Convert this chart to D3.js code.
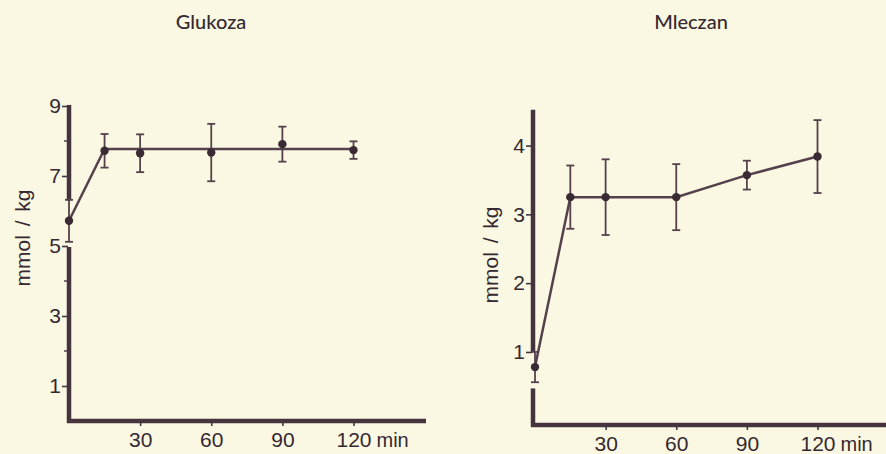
<!DOCTYPE html>
<html>
<head>
<meta charset="utf-8">
<script src="https://cdn.jsdelivr.net/npm/d3@7"></script>
<style>
  html, body { margin: 0; padding: 0; background: #faf8e3; }
  svg { display: block; }
  text { fill: #352830; }
</style>
</head>
<body>
<svg id="chart" width="886" height="454"></svg>
<script>
// Sampling times (min)
const times = [0, 15, 30, 60, 90, 120];
const xTickValues = [30, 60, 90, 120];

// Glukoza (mmol/kg): means, SD, and the drawn trend line
const glukozaMean = [5.72, 7.72, 7.65, 7.67, 7.91, 7.74];
const glukozaSD   = [0.60, 0.48, 0.54, 0.82, 0.50, 0.25];
const glukozaTrend = [5.72, 7.77, 7.77, 7.77, 7.77, 7.77];
const glukozaTicks = [1, 3, 5, 7, 9];
const glukozaMinor = [2, 4, 8];

// Mleczan (mmol/kg): means and SD
const mleczanMean = [0.78, 3.25, 3.25, 3.25, 3.57, 3.84];
const mleczanSD   = [0.22, 0.46, 0.55, 0.48, 0.21, 0.53];
const mleczanTicks = [1, 2, 3, 4];

const ink = "#45333d";
const lineInk = "#54414c";
const textInk = "#352830";
const labelFont = "'Liberation Sans', Arial, sans-serif";
const svg = d3.select("#chart");

function panel(cfg) {
  const g = svg.append("g");
  const x = d3.scaleLinear().domain([0, 120]).range(cfg.xRange);
  const y = d3.scaleLinear().domain(cfg.yDomain).range(cfg.yRange);
  const x0 = x(0) - cfg.axisOffset;
  const baseY = cfg.baseY;

  // y axis, interrupted where the first point's error bar runs along it
  cfg.axisSegments.forEach(([a, b]) => {
    g.append("line")
      .attr("x1", x0).attr("x2", x0)
      .attr("y1", y(a)).attr("y2", b === null ? baseY + 2 : y(b))
      .attr("stroke", ink).attr("stroke-width", 4.5);
  });

  // x axis
  g.append("line")
    .attr("x1", x0 - 2).attr("x2", cfg.xEnd)
    .attr("y1", baseY).attr("y2", baseY)
    .attr("stroke", ink).attr("stroke-width", 4.5);

  // y ticks + labels
  const yAxis = d3.axisLeft(y).tickValues(cfg.yTicks).tickSize(6).tickPadding(1)
    .tickFormat(d3.format("d"));
  const ya = g.append("g").attr("transform", `translate(${x0 - 1},0)`).call(yAxis);
  ya.select(".domain").remove();
  ya.selectAll(".tick line").attr("stroke", ink).attr("stroke-width", 1.6);
  ya.selectAll(".tick text")
    .attr("font-family", labelFont)
    .attr("font-size", 21).attr("fill", textInk);

  if (cfg.yMinor) {
    g.selectAll(".minor").data(cfg.yMinor).join("line")
      .attr("x1", x0 - 5).attr("x2", x0)
      .attr("y1", d => y(d)).attr("y2", d => y(d))
      .attr("stroke", ink).attr("stroke-width", 1.4);
  }

  // x ticks + labels
  const xAxis = d3.axisBottom(x).tickValues(xTickValues).tickSize(4).tickPadding(6)
    .tickFormat(d3.format("d"));
  const xa = g.append("g").attr("transform", `translate(0,${baseY + 1})`).call(xAxis);
  xa.select(".domain").remove();
  xa.selectAll(".tick line").attr("stroke", ink).attr("stroke-width", 1.6);
  xa.selectAll(".tick text")
    .attr("font-family", labelFont)
    .attr("font-size", 21).attr("fill", textInk);

  g.append("text")
    .attr("x", x(120) + 23).attr("y", baseY + 26)
    .attr("font-family", labelFont)
    .attr("font-size", 20)
    .text("min");

  // connecting line
  const line = d3.line().x((d, i) => x(times[i])).y(d => y(d));
  g.append("path")
    .datum(cfg.line)
    .attr("d", line)
    .attr("fill", "none")
    .attr("stroke", lineInk)
    .attr("stroke-width", 2.5);

  // error bars
  const pts = times.map((t, i) => ({ t, m: cfg.mean[i], s: cfg.sd[i] }));
  const eb = g.selectAll(".eb").data(pts).join("g");
  eb.append("line")
    .attr("x1", d => x(d.t)).attr("x2", d => x(d.t))
    .attr("y1", d => y(d.m + d.s)).attr("y2", d => y(d.m - d.s))
    .attr("stroke", lineInk).attr("stroke-width", 1.8);
  [1, -1].forEach(sgn => {
    eb.append("line")
      .attr("x1", d => x(d.t) - 4).attr("x2", d => x(d.t) + 4)
      .attr("y1", d => y(d.m + sgn * d.s)).attr("y2", d => y(d.m + sgn * d.s))
      .attr("stroke", lineInk).attr("stroke-width", 1.8);
  });

  // mean points
  g.selectAll(".pt").data(pts).join("circle")
    .attr("cx", d => x(d.t)).attr("cy", d => y(d.m))
    .attr("r", 4.2).attr("fill", "#3a2a33");

  // title
  g.append("text")
    .attr("x", cfg.titleX).attr("y", 29)
    .attr("text-anchor", "middle")
    .attr("font-family", "Lato, 'Open Sans', sans-serif")
    .attr("font-size", 20)
    .attr("font-weight", 500)
    .text(cfg.title);

  // y label
  g.append("text")
    .attr("transform", `translate(${cfg.yLabel[0]},${cfg.yLabel[1]}) rotate(-90)`)
    .attr("text-anchor", "middle")
    .attr("dominant-baseline", "central")
    .attr("font-family", labelFont)
    .attr("font-size", 21)
    .attr("word-spacing", 3)
    .text("mmol / kg");
}

panel({
  title: "Glukoza", titleX: 211,
  xRange: [69, 353.5], xEnd: 426,
  yDomain: [0, 9], yRange: [421, 106],
  baseY: 421, axisOffset: 0,
  axisSegments: [[9.03, 6.3], [4.97, null]],
  yTicks: glukozaTicks, yMinor: glukozaMinor,
  mean: glukozaMean, sd: glukozaSD, line: glukozaTrend,
  yLabel: [22, 238]
});

panel({
  title: "Mleczan", titleX: 691,
  xRange: [535, 817.5], xEnd: 886,
  yDomain: [0, 4], yRange: [420.75, 145.55],
  baseY: 425, axisOffset: 2,
  axisSegments: [[4.52, 1.0], [0.47, null]],
  yTicks: mleczanTicks, yMinor: null,
  mean: mleczanMean, sd: mleczanSD, line: mleczanMean,
  yLabel: [490, 255]
});
</script>
</body>
</html>
